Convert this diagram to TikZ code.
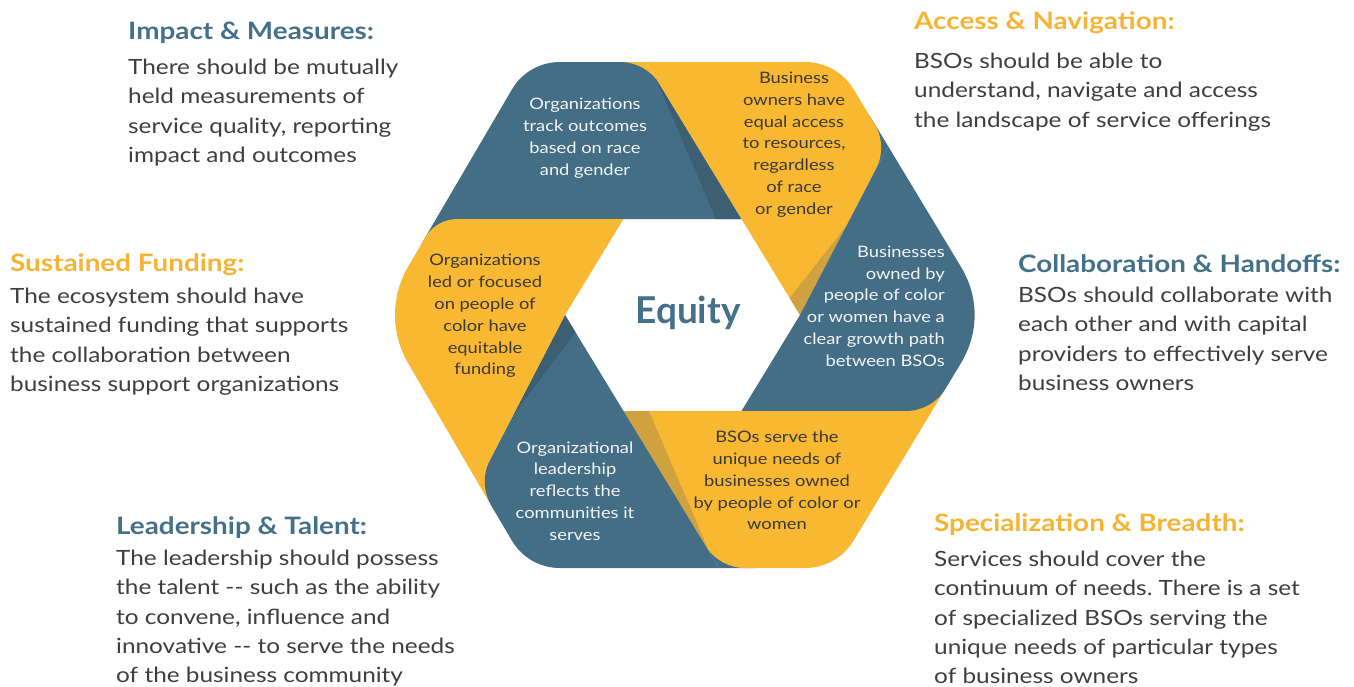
\documentclass[tikz,border=0pt]{standalone}
\usepackage{fontspec}
\setmainfont{Lato}[FakeStretch=1.16]
\newfontfamily\centrefont{Lato}
\usetikzlibrary{calc}
\frenchspacing

\definecolor{ringblue}{HTML}{436E86}
\definecolor{ringyellow}{HTML}{F8B832}
\definecolor{foldblue}{HTML}{3C5F73}
\definecolor{foldtan}{HTML}{CFA23F}
\definecolor{bodygray}{HTML}{3E3E3E}
\definecolor{headblue}{HTML}{45708A}
\definecolor{headyellow}{HTML}{F6B334}
\definecolor{paleink}{HTML}{F4F4F4}
\definecolor{darkink}{HTML}{3A3A3A}

% rounded corner helper: name, previous point, vertex, next point, tangent length, control distance
\newcommand\roundat[6]{%
  \coordinate (#1a) at ($(#3)!#5!(#2)$);
  \coordinate (#1b) at ($(#3)!#6!(#2)$);
  \coordinate (#1c) at ($(#3)!#6!(#4)$);
  \coordinate (#1d) at ($(#3)!#5!(#4)$);}

\tikzset{
  heading/.style={anchor=west, inner sep=0pt, font=\fontsize{24}{28}\selectfont\bfseries},
  bodytext/.style={anchor=north west, inner sep=0pt, align=left, text=bodygray,
    font=\fontsize{21}{29.2}\selectfont},
  bandtext/.style={inner sep=0pt, align=center, font=\fontsize{15.8}{21.8}\selectfont},
}

\begin{document}
\begin{tikzpicture}[x=1pt,y=-1pt]
\useasboundingbox (0,0) rectangle (1354,686);

% inner hexagon
\coordinate (I0) at (623.5,219);
\coordinate (I1) at (741.5,219);
\coordinate (I2) at (800,315);
\coordinate (I3) at (741.5,411);
\coordinate (I4) at (623.5,411);
\coordinate (I5) at (565,315);
% outer hexagon
\coordinate (O0) at (528,62);
\coordinate (O1) at (837,62);
\coordinate (O2) at (990,315);
\coordinate (O3) at (837,568);
\coordinate (O4) at (528,568);
\coordinate (O5) at (380,315);
% where the band seams meet the outer rim
\coordinate (P0) at (436,219);
\coordinate (P1) at (646,62);
\coordinate (P2) at (888,146);
\coordinate (P3) at (932,411);
\coordinate (P4) at (719,568);
\coordinate (P5) at (478,483);

% rounded corners
\roundat{r0o}{P0}{O0}{P1}{32pt}{12pt}
\roundat{r0p}{O0}{P1}{I1}{26pt}{10pt}
\roundat{r1o}{P1}{O1}{P2}{32pt}{12pt}
\roundat{r1p}{O1}{P2}{I2}{26pt}{10pt}
\roundat{r2o}{P2}{O2}{P3}{56pt}{21pt}
\roundat{r2p}{O2}{P3}{I3}{26pt}{10pt}
\roundat{r3o}{P3}{O3}{P4}{32pt}{12pt}
\roundat{r3p}{O3}{P4}{I4}{26pt}{10pt}
\roundat{r4o}{P4}{O4}{P5}{32pt}{12pt}
\roundat{r4p}{O4}{P5}{I5}{26pt}{10pt}
\roundat{r5o}{P5}{O5}{P0}{56pt}{21pt}
\roundat{r5p}{O5}{P0}{I0}{22pt}{8pt}

% band 0: top left
\fill[ringyellow] (P1) -- ($(P1)!36pt!(O0)$) -- ($(P1)!36pt!(I1)$) -- cycle;
\fill[ringblue] (P0) -- (r0oa) .. controls (r0ob) and (r0oc) .. (r0od)
  -- (r0pa) .. controls (r0pb) and (r0pc) .. (r0pd) -- (I1) -- (I0) -- cycle;
\fill[foldblue] (716,219) -- (I1) -- ($(P1)!0.1!(I1)$) -- cycle;

% band 1: top right
\fill[ringblue] (P2) -- ($(P2)!36pt!(O1)$) -- ($(P2)!36pt!(I2)$) -- cycle;
\fill[ringyellow] (P1) -- (r1oa) .. controls (r1ob) and (r1oc) .. (r1od)
  -- (r1pa) .. controls (r1pb) and (r1pc) .. (r1pd) -- (I2) -- (I1) -- cycle;
\fill[foldtan] ($(I2)!20pt!(I1)$) -- (I2) -- ($(I2)!0.53!(P2)$) -- cycle;

% band 2: right
\fill[ringyellow] (P3) -- ($(P3)!36pt!(O2)$) -- ($(P3)!36pt!(I3)$) -- cycle;
\fill[ringblue] (P2) -- (r2oa) .. controls (r2ob) and (r2oc) .. (r2od)
  -- (r2pa) .. controls (r2pb) and (r2pc) .. (r2pd) -- (I3) -- (I2) -- cycle;

% band 3: bottom right
\fill[ringblue] (P4) -- ($(P4)!36pt!(O3)$) -- ($(P4)!36pt!(I4)$) -- cycle;
\fill[ringyellow] (P3) -- (r3oa) .. controls (r3ob) and (r3oc) .. (r3od)
  -- (r3pa) .. controls (r3pb) and (r3pc) .. (r3pd) -- (I4) -- (I3) -- cycle;
\fill[foldtan] (649,411) -- (I4) -- ($(P4)!0.1!(I4)$) -- cycle;

% band 4: bottom left
\fill[ringyellow] (P5) -- ($(P5)!36pt!(O4)$) -- ($(P5)!36pt!(I5)$) -- cycle;
\fill[ringblue] (P4) -- (r4oa) .. controls (r4ob) and (r4oc) .. (r4od)
  -- (r4pa) .. controls (r4pb) and (r4pc) .. (r4pd) -- (I5) -- (I4) -- cycle;
\fill[foldblue] ($(I5)!20pt!(I4)$) -- (I5) -- ($(I5)!0.6!(P5)$) -- cycle;

% band 5: left
\fill[ringblue] (P0) -- ($(P0)!30pt!(O5)$) -- ($(P0)!30pt!(I0)$) -- cycle;
\fill[ringyellow] (P5) -- (r5oa) .. controls (r5ob) and (r5oc) .. (r5od)
  -- (r5pa) .. controls (r5pb) and (r5pc) .. (r5pd) -- (I0) -- (I5) -- cycle;

% centre
\node[text=headblue, font=\centrefont\fontsize{37}{40}\selectfont\bfseries] (equity) at (688,313) {Equity};

% band captions
\node[bandtext, text=paleink] (tltext) at (585,138)
  {Organizations\\track outcomes\\based on race\\and gender};
\node[bandtext, text=darkink] (trtext) at (794,144.5)
  {Business\\owners have\\equal access\\to resources,\\regardless\\of race\\or gender};
\node[bandtext, text=paleink, anchor=east, align=right] (rtext) at (945,306)
  {Businesses\\owned by\\people of color\\or women have a\\clear growth path\\between BSOs};
\node[bandtext, text=darkink] (brtext) at (777,480.5)
  {BSOs serve the\\unique needs of\\businesses owned\\by people of color or\\women};
\node[bandtext, text=paleink] (bltext) at (575,491)
  {Organizational\\leadership\\reflects the\\communities it\\serves};
\node[bandtext, text=darkink] (ltext) at (485,316)
  {Organizations\\led or focused\\on people of\\color have\\equitable\\funding};

% side notes
\node[heading, text=headblue] (impacthead) at (128,33) {Impact \& Measures:};
\node[bodytext] (impactbody) at (128,59)
  {There should be mutually\\held measurements of\\service quality, reporting\\impact and outcomes};

\node[heading, text=headyellow] (accesshead) at (914,23) {Access \& Navigation:};
\node[bodytext] (accessbody) at (914,53)
  {BSOs should be able to\\understand, navigate and access\\the landscape of service offerings};

\node[heading, text=headyellow] (fundhead) at (10,265) {Sustained Funding:};
\node[bodytext] (fundbody) at (10,288)
  {The ecosystem should have\\sustained funding that supports\\the collaboration between\\business support organizations};

\node[heading, text=headblue] (collabhead) at (1018,264) {Collaboration \& Handoffs:};
\node[bodytext] (collabbody) at (1018,287)
  {BSOs should collaborate with\\each other and with capital\\providers to effectively serve\\business owners};

\node[heading, text=headblue] (leadhead) at (116,528) {Leadership \& Talent:};
\node[bodytext] (leadbody) at (116,550)
  {The leadership should possess\\the talent -{}- such as the ability\\to convene, influence and\\innovative -{}- to serve the needs\\of the business community};

\node[heading, text=headyellow] (spechead) at (934,525) {Specialization \& Breadth:};
\node[bodytext] (specbody) at (934,551)
  {Services should cover the\\continuum of needs. There is a set\\of specialized BSOs serving the\\unique needs of particular types\\of business owners};
\end{tikzpicture}
\end{document}
